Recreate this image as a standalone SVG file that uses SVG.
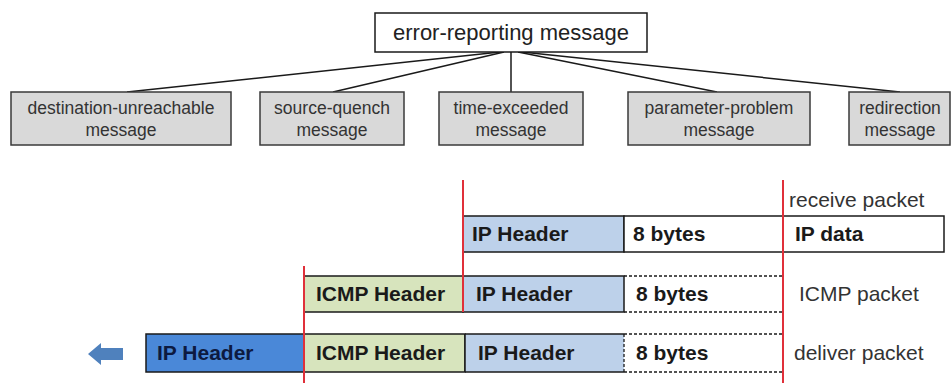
<svg xmlns="http://www.w3.org/2000/svg" width="952" height="383" viewBox="0 0 952 383">
<style>
  .msg { fill: #d9d9d9; stroke: #3a3a3a; stroke-width: 1.5; }
  .msgt { font-family: "Liberation Sans", Arial, sans-serif; font-size: 17.5px; fill: #333; text-anchor: middle; }
  .title { font-family: "Liberation Sans", Arial, sans-serif; font-size: 22px; fill: #222; text-anchor: middle; }
  .conn { stroke: #1a1a1a; stroke-width: 1.5; fill: none; }
  .cell { stroke: #1a1a1a; stroke-width: 1.5; }
  .lb { fill: #bdd1ea; }
  .gr { fill: #d7e4bd; }
  .db { fill: #4a88d8; }
  .wh { fill: #ffffff; }
  .bold { font-family: "Liberation Sans", Arial, sans-serif; font-size: 21px; font-weight: bold; fill: #1a1a1a; }
  .lab { font-family: "Liberation Sans", Arial, sans-serif; font-size: 21px; fill: #333; }
  .dash { stroke: #1a1a1a; stroke-width: 1.3; stroke-dasharray: 3 2; fill: none; }
  .red { stroke: #e0303a; stroke-width: 2; fill: none; }
</style>

<g id="connectors">
  <line class="conn" x1="500" y1="52" x2="127" y2="92"/>
  <line class="conn" x1="504" y1="52" x2="333" y2="92"/>
  <line class="conn" x1="511" y1="52" x2="511" y2="92"/>
  <line class="conn" x1="518" y1="52" x2="717" y2="92"/>
  <line class="conn" x1="522" y1="52" x2="900" y2="92"/>
</g>

<g id="error-reporting">
  <rect x="375" y="13" width="272" height="39" fill="#fff" stroke="#1a1a1a" stroke-width="1.5"/>
  <text class="title" x="511" y="40">error-reporting message</text>
</g>

<g id="dest-unreachable">
  <rect class="msg" x="11" y="92" width="220" height="53"/>
  <text class="msgt" x="121" y="114">destination-unreachable</text>
  <text class="msgt" x="121" y="136">message</text>
</g>
<g id="source-quench">
  <rect class="msg" x="260" y="92" width="144" height="53"/>
  <text class="msgt" x="332" y="114">source-quench</text>
  <text class="msgt" x="332" y="136">message</text>
</g>
<g id="time-exceeded">
  <rect class="msg" x="439" y="92" width="144" height="53"/>
  <text class="msgt" x="511" y="114">time-exceeded</text>
  <text class="msgt" x="511" y="136">message</text>
</g>
<g id="parameter-problem">
  <rect class="msg" x="628" y="92" width="182" height="53"/>
  <text class="msgt" x="719" y="114">parameter-problem</text>
  <text class="msgt" x="719" y="136">message</text>
</g>
<g id="redirection">
  <rect class="msg" x="849" y="92" width="101" height="53"/>
  <text class="msgt" x="900" y="114">redirection</text>
  <text class="msgt" x="900" y="136">message</text>
</g>

<g id="receive-packet">
  <rect class="cell lb" x="463" y="216" width="161" height="36"/>
  <rect class="cell wh" x="624" y="216" width="159" height="36"/>
  <rect class="cell wh" x="783" y="216" width="161" height="36"/>
  <text class="bold" x="472" y="241">IP Header</text>
  <text class="bold" x="633" y="241">8 bytes</text>
  <text class="bold" x="795" y="241">IP data</text>
  <text class="lab" x="789" y="207">receive packet</text>
</g>

<g id="icmp-packet">
  <rect class="cell gr" x="304" y="276" width="159" height="36"/>
  <rect class="cell lb" x="463" y="276" width="161" height="36"/>
  <line class="dash" x1="624" y1="276" x2="783" y2="276"/>
  <line class="dash" x1="624" y1="312" x2="783" y2="312"/>
  <text class="bold" x="316" y="301">ICMP Header</text>
  <text class="bold" x="476" y="301">IP Header</text>
  <text class="bold" x="636" y="301">8 bytes</text>
  <text class="lab" x="799" y="301">ICMP packet</text>
</g>

<g id="deliver-packet">
  <rect class="cell db" x="146" y="334" width="158" height="38"/>
  <rect class="cell gr" x="304" y="334" width="161" height="38"/>
  <rect class="lb" x="465" y="334" width="159" height="38"/>
  <path class="cell" fill="none" d="M465,334 H624 M465,372 H624 M465,334 V372"/>
  <line class="dash" x1="624" y1="334" x2="783" y2="334"/>
  <line class="dash" x1="624" y1="372" x2="783" y2="372"/>
  <line class="dash" x1="624" y1="334" x2="624" y2="372"/>
  <text class="bold" x="157" y="360" fill="#0d1a40" style="fill:#0d1a40">IP Header</text>
  <text class="bold" x="316" y="360">ICMP Header</text>
  <text class="bold" x="478" y="360">IP Header</text>
  <text class="bold" x="636" y="360">8 bytes</text>
  <text class="lab" x="794" y="360">deliver packet</text>
</g>

<g id="boundaries">
  <line class="red" x1="463" y1="180" x2="463" y2="312"/>
  <line class="red" x1="783" y1="180" x2="783" y2="383"/>
  <line class="red" x1="304" y1="266" x2="304" y2="383"/>
</g>

<g id="deliver-arrow">
  <polygon points="88,354 101,343 101,348 123,348 123,360 101,360 101,365" fill="#4f81bd"/>
</g>
</svg>
